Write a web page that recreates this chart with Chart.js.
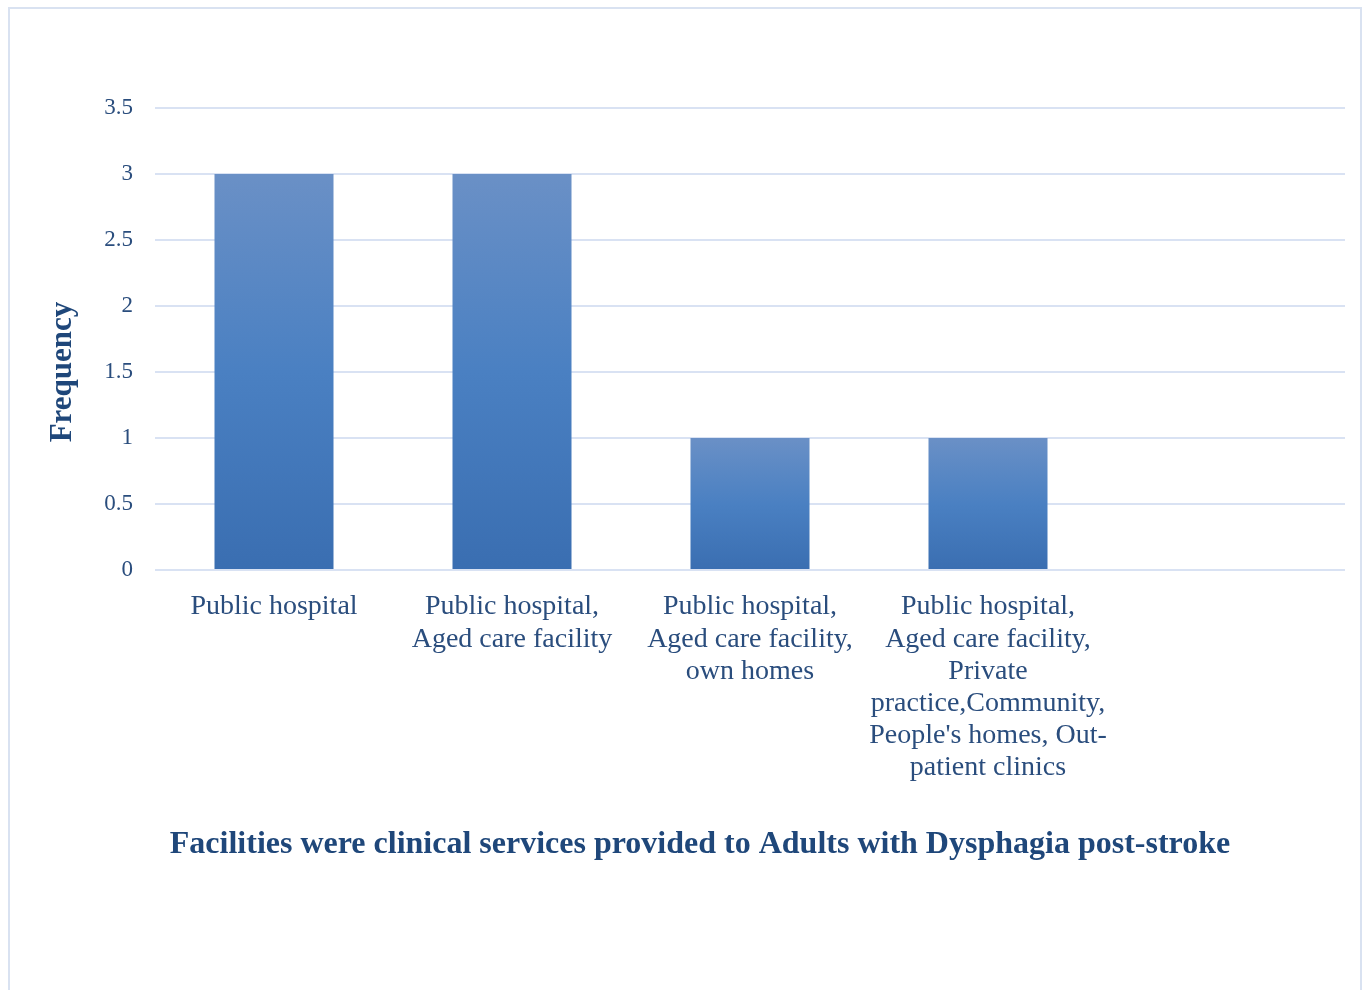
<!DOCTYPE html>
<html>
<head>
<meta charset="utf-8">
<script src="https://cdn.jsdelivr.net/npm/chart.js@4.4.1/dist/chart.umd.min.js"></script>
<style>
  html, body { margin: 0; padding: 0; background: #fff; overflow: hidden; }
  .frame {
    position: absolute; left: 8px; top: 7px;
    width: 1350px; height: 1000px;
    border: 2px solid #d9e2f1;
  }
  canvas { display: block; }
</style>
</head>
<body>
<div class="frame">
  <canvas id="chart" width="1350" height="981"></canvas>
</div>
<script>
/* ----------------------------------------------------------
   Data
   ---------------------------------------------------------- */
const categories = [
  'Public hospital',
  ['Public hospital,', 'Aged care facility'],
  ['Public hospital,', 'Aged care facility,', 'own homes'],
  ['Public hospital,', 'Aged care facility,', 'Private', 'practice,Community,', "People's homes, Out-", 'patient clinics'],
  '',
];
const frequency = [3, 3, 1, 1, null];
const yTicks = [0, 0.5, 1, 1.5, 2, 2.5, 3, 3.5];

const xTitle = 'Facilities were clinical services provided to Adults with Dysphagia post-stroke';
const yTitle = 'Frequency';

/* ----------------------------------------------------------
   Styles
   ---------------------------------------------------------- */
const TEXT = '#2a4d7d';
const TITLE = '#1f477a';
const GRID = '#d9e2f3';
const SERIF = "'Liberation Serif','Times New Roman',serif";

// each bar gets its own top-to-bottom gradient
function barGradient(ctx) {
  const chart = ctx.chart;
  const { chartArea } = chart;
  if (!chartArea || ctx.parsed == null || ctx.parsed.y == null) return '#4a7fc1';
  const y = chart.scales.y;
  const top = y.getPixelForValue(ctx.parsed.y);
  const bottom = y.getPixelForValue(0);
  const g = chart.ctx.createLinearGradient(0, top, 0, bottom);
  g.addColorStop(0, '#6a90c6');
  g.addColorStop(0.5, '#4a80c2');
  g.addColorStop(1, '#3a6eb1');
  return g;
}

// axis titles sit a little off-centre in the original, so draw them here
const axisTitles = {
  id: 'axisTitles',
  afterDraw(chart) {
    const { ctx, chartArea } = chart;
    ctx.save();
    ctx.fillStyle = TITLE;
    ctx.textAlign = 'center';
    ctx.textBaseline = 'middle';

    ctx.font = `bold 31px ${SERIF}`;
    ctx.translate(53, (chartArea.top + chartArea.bottom) / 2 + 33);
    ctx.rotate(-Math.PI / 2);
    ctx.fillText(yTitle, 0, 0);
    ctx.setTransform(1, 0, 0, 1, 0, 0);

    ctx.font = `bold 32px ${SERIF}`;
    ctx.fillText(xTitle, (chartArea.left + chartArea.right) / 2 - 50, 836);
    ctx.restore();
  },
};

new Chart(document.getElementById('chart'), {
  type: 'bar',
  data: {
    labels: categories,
    datasets: [{
      label: yTitle,
      data: frequency,
      backgroundColor: barGradient,
      borderWidth: 0,
      barPercentage: 0.5,
      categoryPercentage: 1.0,
    }],
  },
  options: {
    responsive: false,
    animation: false,
    layout: { padding: { top: 99, right: 15, bottom: 0, left: 0 } },
    plugins: {
      legend: { display: false },
      tooltip: { enabled: false },
    },
    scales: {
      x: {
        grid: { display: false, drawTicks: false },
        border: { display: false },
        ticks: {
          color: TEXT,
          font: { family: SERIF, size: 28, lineHeight: 1.15 },
          padding: 21,
          maxRotation: 0,
          autoSkip: false,
        },
        afterFit: (s) => { s.height = 420; },
      },
      y: {
        min: 0,
        max: 3.5,
        afterBuildTicks: (s) => { s.ticks = yTicks.map(v => ({ value: v })); },
        grid: { color: GRID, lineWidth: 2, drawTicks: false },
        border: { display: false },
        ticks: {
          color: TEXT,
          font: { family: SERIF, size: 23 },
          padding: 22,
          callback: (v) => String(v),
        },
        afterFit: (s) => { s.width = 145; },
      },
    },
  },
  plugins: [axisTitles],
});
</script>
</body>
</html>
